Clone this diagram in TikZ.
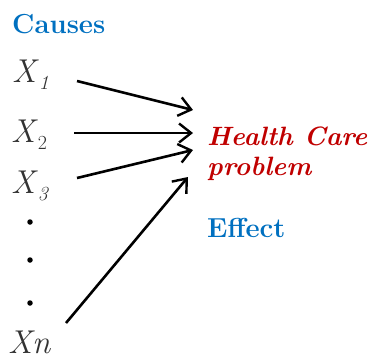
\documentclass[tikz,border=0pt]{standalone}
\usepackage{fontspec}
\usetikzlibrary{arrows.meta}
\definecolor{hcBlue}{HTML}{0070C0}
\definecolor{hcRed}{HTML}{C00000}

% one cause variable with a lowered index
\newcommand{\causevar}[1]{\textit{X}\raisebox{-7pt}{\fontsize{20}{20}\selectfont #1}}

\begin{document}
\begin{tikzpicture}[
    x=1pt, y=-1pt,
    arrow/.style={
        -{Straight Barb[length=12pt,width=19pt,line width=2.4pt]},
        line width=2.6pt,
        black,
    },
    heading/.style={
        anchor=base west,
        inner sep=0pt,
        font=\fontsize{27.5}{27.5}\selectfont\bfseries,
        hcBlue,
    },
    cause/.style={
        anchor=base west,
        inner sep=0pt,
        font=\fontsize{33}{33}\selectfont,
        black!80,
    },
    dotmark/.style={
        circle,
        fill=black,
        inner sep=0pt,
        minimum size=5.5pt,
    },
]
    \useasboundingbox (0,0) rectangle (371,357);

    % Headings
    \node[heading] (causes) at (12,33) {Causes};
    \node[heading] (effect) at (207,237) {Effect};

    % Causes
    \node[cause] (x1) at (12,82) {\causevar{\textit{1}}};
    \node[cause] (x2) at (11,142) {\causevar{2}};
    \node[cause] (x3) at (11,193) {\causevar{\textit{3}}};
    \node[cause] (xn) at (8,353) {\textit{Xn}};

    \node[dotmark] (d1) at (30,222) {};
    \node[dotmark] (d2) at (30,260) {};
    \node[dotmark] (d3) at (30,303) {};

    % Effect (base anchor sits on the last line)
    \node[anchor=base west, inner sep=0pt, align=left, hcRed,
          font=\fontsize{26.5}{30}\selectfont\bfseries\itshape] (problem) at (207,175)
          {Health Care\\problem};

    % Arrow ends
    \coordinate (s1) at (77,81);
    \coordinate (s2) at (74,133);
    \coordinate (s3) at (77,178);
    \coordinate (s4) at (66,323);
    \coordinate (t1) at (193,110);
    \coordinate (t2) at (193,133);
    \coordinate (t3) at (193,150);
    \coordinate (t4) at (188,177);

    \draw[arrow] (s1) -- (t1);
    \draw[arrow] (s2) -- (t2);
    \draw[arrow] (s3) -- (t3);
    \draw[arrow] (s4) -- (t4);

\end{tikzpicture}
\end{document}
